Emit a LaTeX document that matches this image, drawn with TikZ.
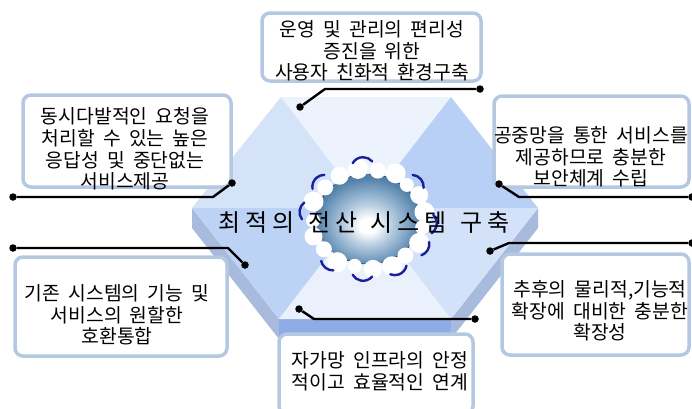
\documentclass[tikz,border=0pt]{standalone}
\usepackage{fontspec}
\newfontfamily\kr[WordSpace=1.9]{Noto Sans CJK KR}
\definecolor{hexTop}{HTML}{EDF3FC}
\definecolor{hexUL}{HTML}{D4E3F8}
\definecolor{hexUR}{HTML}{B8D0F5}
\definecolor{hexLL}{HTML}{BDD3F5}
\definecolor{hexLR}{HTML}{D3E2F8}
\definecolor{hexBot}{HTML}{EAF1FC}
\definecolor{sideL}{HTML}{A9BBDD}
\definecolor{sideF}{HTML}{8EACE6}
\definecolor{panelrim}{HTML}{B5C8E2}
\definecolor{globeA}{HTML}{BBD0E3}
\definecolor{globeB}{HTML}{86A9C8}
\definecolor{globeC}{HTML}{5280A9}
\definecolor{swirl}{HTML}{1A1F9E}
% radial gradient of the globe; 25bp is the rim of the shaded path
\pgfdeclareradialshading{globeshade}{\pgfpoint{0bp}{-4bp}}{%
  color(0bp)=(white); color(4bp)=(white); color(11bp)=(globeA);
  color(18bp)=(globeB); color(25bp)=(globeC); color(50bp)=(globeC)}
% widely tracked heading: letter gap and word gap
\newcommand\hdgap{\hspace{5pt}}
\newcommand\hdword{\hspace{13.5pt}}
\begin{document}
\begin{tikzpicture}[x=1pt,y=-1pt,
  panel/.style={draw=panelrim, line width=3.5pt, fill=white, rounded corners=8pt, inner sep=0pt},
  paneltext/.style={font=\kr\fontsize{19.3}{21.7}\selectfont, align=center, inner sep=0pt},
  dot/.style={circle, fill=black, inner sep=0pt, minimum size=7.5pt},
  link/.style={line width=2.4pt, black},
  blob/.style={fill=white},
  swirlarc/.style={draw=swirl, line width=2.4pt, line cap=round},
]
\useasboundingbox (0,0) rectangle (692,408);

% hexagonal platform: top face corners and the lower rim
\coordinate (C)  at (365,208);
\coordinate (TL) at (281,97);
\coordinate (TR) at (451,97);
\coordinate (R)  at (538,208);
\coordinate (BR) at (451,319);
\coordinate (BL) at (279,319);
\coordinate (L)  at (192,208);
\coordinate (L2)  at (192,228);
\coordinate (BL2) at (279,339);
\coordinate (BR2) at (451,339);
\coordinate (R2)  at (538,228);

% side faces
\fill[sideL] (L) -- (BL) -- (BL2) -- (L2) -- cycle;
\fill[sideF] (BL) -- (BR) -- (BR2) -- (BL2) -- cycle;
\fill[sideL] (BR) -- (R) -- (R2) -- (BR2) -- cycle;

% top face, six triangles
\fill[hexTop] (C) -- (TL) -- (TR) -- cycle;
\fill[hexUL]  (C) -- (L) -- (TL) -- cycle;
\fill[hexUR]  (C) -- (TR) -- (R) -- cycle;
\fill[hexLL]  (C) -- (BL) -- (L) -- cycle;
\fill[hexLR]  (C) -- (R) -- (BR) -- cycle;
\fill[hexBot] (C) -- (BR) -- (BL) -- cycle;

% globe
\coordinate (G) at (368,219);
\shade[shading=globeshade] (G) ellipse [x radius=52, y radius=45];
\draw[densely dashed, line width=0.7pt, black!80] (G) ellipse [x radius=52, y radius=45];

% ragged white cloud band along the rim (angle / distance / size; y points down)
\foreach \t/\o/\r in {-100/58/10, -80/56/8, -62/59/10, -45/55/7, -28/58/9, -8/57/10,
                      10/55/7, 28/58/10, 48/56/8, 66/59/10, 85/57/9, 104/55/7,
                      122/58/10, 142/56/8, 160/58/9, 178/55/7, -160/58/10, -140/56/8, -120/57/9}
  \fill[blob] (G) ++({\t}:{\o} and {\o*50/57}) circle (\r);
% blue curls on the outer side of the clouds
\foreach \t/\s in {-95/55, -40/45, 5/50, 30/40, 62/50, 95/55, 128/40, -172/45, -140/50}
  \draw[swirlarc] (G) ++(\t:57 and 50) ++({\t-\s}:12) arc[start angle={\t-\s}, end angle={\t+\s}, radius=12];

% heading
\node[font=\kr\fontsize{24}{24}\selectfont, inner sep=0pt] (title) at (364,222)
  {최\hdgap 적\hdgap 의\hdword 전\hdgap 산\hdword 시\hdgap 스\hdgap 템\hdword 구\hdgap 축};

% panels
\node[panel, minimum width=219pt, minimum height=68pt] (p1) at (371.5,47) {};
\node[panel, minimum width=208pt, minimum height=92pt] (p2) at (127,141) {};
\node[panel, minimum width=195pt, minimum height=91pt] (p3) at (591.5,141.5) {};
\node[panel, minimum width=212pt, minimum height=99pt] (p4) at (121,306.5) {};
\node[panel, minimum width=194pt, minimum height=80pt] (p5) at (376,374) {};
\node[panel, minimum width=187pt, minimum height=101pt] (p6) at (595.5,304.5) {};

\node[paneltext] (p1t) at (372,51) {운영 및 관리의 편리성\\증진을 위한\\사용자 친화적 환경구축};
\node[paneltext] (p2t) at (125,149) {동시다발적인 요청을\\처리할 수 있는 높은\\응답성 및 중단없는\\서비스제공};
\node[paneltext] (p3t) at (591,157) {공중망을 통한 서비스를\\제공하므로 충분한\\보안체계 수립};
\node[paneltext] (p4t) at (117,315) {기존 시스템의 기능 및\\서비스의 원할한\\호환통합};
\node[paneltext] (p5t) at (380,371) {자가망 인프라의 안정\\적이고 효율적인 연계};
\node[paneltext] (p6t) at (600,311) {추후의 물리적,기능적\\확장에 대비한 충분한\\확장성};

% leader lines
\node[dot] (a1) at (300,107) {};
\coordinate (k1) at (325,89);
\node[dot] (b1) at (480,89) {};
\draw[link] (a1) -- (k1) -- (b1);

\node[dot] (a2) at (232,183) {};
\coordinate (k2) at (213,197);
\node[dot] (b2) at (13,197) {};
\draw[link] (a2) -- (k2) -- (b2);

\node[dot] (a3) at (499,184) {};
\coordinate (k3) at (519,197);
\node[dot] (b3) at (692,197) {};
\draw[link] (a3) -- (k3) -- (b3);

\node[dot] (a4) at (245,265) {};
\coordinate (k4) at (228,248);
\node[dot] (b4) at (13,248) {};
\draw[link] (a4) -- (k4) -- (b4);

\node[dot] (a5) at (299,309) {};
\coordinate (k5) at (314,319);
\node[dot] (b5) at (475,319) {};
\draw[link] (a5) -- (k5) -- (b5);

\node[dot] (a6) at (490,251) {};
\coordinate (k6) at (509,243);
\node[dot] (b6) at (692,243) {};
\draw[link] (a6) -- (k6) -- (b6);
\end{tikzpicture}
\end{document}
